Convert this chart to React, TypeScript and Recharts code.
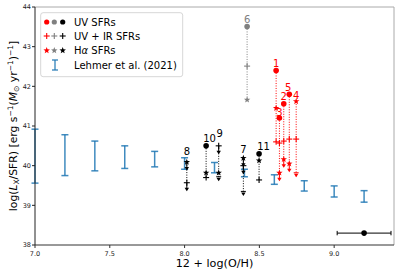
import React from 'react';
import { ComposedChart, Scatter, XAxis, YAxis, ErrorBar, ReferenceLine, Customized } from 'recharts';

// ---------- data ----------
// Lehmer et al. (2021) relation (centre and half-range)
const lehmerOH = [7.0, 7.2, 7.4, 7.6, 7.8, 8.0, 8.2, 8.4, 8.6, 8.8, 9.0, 9.2];
const lehmerLx = [40.24, 40.265, 40.245, 40.215, 40.165, 40.055, 39.95, 39.815, 39.65, 39.49, 39.35, 39.225];
const lehmerErr = [0.68, 0.515, 0.375, 0.285, 0.195, 0.145, 0.13, 0.095, 0.12, 0.13, 0.14, 0.145];

// typical metallicity uncertainty point
const refOH = [9.2];
const refLx = [38.3];
const refOHErr = [0.18];

// galaxies
const galaxyIds = ['1', '2', '3', '4', '5', '6', '7', '8', '9', '10', '11'];
const galaxyOH = [8.612, 8.663, 8.634, 8.746, 8.7, 8.418, 8.393, 8.015, 8.228, 8.144, 8.498];
const galaxyGroup = ['red', 'red', 'red', 'red', 'red', 'gray', 'black', 'black', 'black', 'black', 'black'];
const uvSFR = [42.4, 41.56, 41.2, null, 41.8, 43.51, null, null, null, 40.5, 40.3];
const uvirSFR = [40.6, 40.62, 40.57, 40.67, 40.67, 42.51, 40.0, 39.57, 40.5, 39.7, 39.64];
const uvirUpper = [false, false, false, false, false, false, true, true, true, false, false];
const haSFR = [41.45, 40.16, 39.82, 41.62, 40.05, 41.66, 40.19, 40.09, 39.82, 39.82, 40.13];
const haUpper = [false, true, true, false, true, false, true, true, false, false, false];
const uvUpperOnly = [null, null, null, 39.72, null, null, 39.25, null, 39.62, null, null];

// x ticks / y ticks
const xTicks = [7.0, 7.5, 8.0, 8.5, 9.0];
const yTicks = [38, 39, 40, 41, 42, 43, 44];

// ---------- styles ----------
const FONT = 'DejaVu Sans, sans-serif';
const groupColor: Record<string, string> = { red: '#ff0000', gray: '#808080', black: '#000000' };
const labelOffset: Record<string, [number, number]> = {
  '1': [0, -3.5], '2': [0, -3.3], '3': [0, -2], '4': [0, -2.5], '5': [-1, -3],
  '6': [0, -3.4], '7': [0, -5.5], '8': [0, -7], '9': [1, -8.5], '10': [3.5, -4], '11': [4.5, -3.3],
};

const lehmerData = lehmerOH.map((x, i) => ({ x, y: lehmerLx[i], err: lehmerErr[i] }));
const refData = refOH.map((x, i) => ({ x, y: refLx[i], xerr: refOHErr[i] }));

const galaxies = galaxyIds.map((id, i) => {
  const color = groupColor[galaxyGroup[i]];
  const pts: any[] = [];
  if (uvSFR[i] != null) pts.push({ x: galaxyOH[i], y: uvSFR[i], kind: 'uv', lim: false, color });
  if (uvirSFR[i] != null) pts.push({ x: galaxyOH[i], y: uvirSFR[i], kind: 'uvir', lim: uvirUpper[i], color });
  if (haSFR[i] != null) pts.push({ x: galaxyOH[i], y: haSFR[i], kind: 'ha', lim: haUpper[i], color });
  if (uvUpperOnly[i] != null) pts.push({ x: galaxyOH[i], y: uvUpperOnly[i], kind: 'uvlim', lim: false, color });
  pts.sort((a, b) => b.y - a.y);
  pts[0] = { ...pts[0], label: id, ldx: labelOffset[id][0], ldy: labelOffset[id][1] };
  return { id, color, pts };
});

// ---------- shapes ----------
function starPoints(cx: number, cy: number, ro: number, ri: number) {
  const p: string[] = [];
  for (let k = 0; k < 10; k++) {
    const r = k % 2 === 0 ? ro : ri;
    const a = -Math.PI / 2 + (k * Math.PI) / 5;
    p.push(`${cx + r * Math.cos(a)},${cy + r * Math.sin(a)}`);
  }
  return p.join(' ');
}

function Marker(props: any) {
  const { cx, cy, payload } = props;
  if (cx == null || cy == null || !payload) return <g />;
  const c = payload.color;
  return (
    <g>
      {payload.lim && (
        <g>
          <line x1={cx} y1={cy} x2={cx} y2={cy + 7} stroke={c} strokeWidth={1} />
          <polygon points={`${cx - 2.2},${cy + 5} ${cx + 2.2},${cy + 5} ${cx},${cy + 8.5}`} fill={c} />
        </g>
      )}
      {payload.kind === 'uv' && <circle cx={cx} cy={cy} r={2.8} fill={c} />}
      {payload.kind === 'uvir' && (
        <g stroke={c} strokeWidth={1.1}>
          <line x1={cx - 3} y1={cy} x2={cx + 3} y2={cy} />
          <line x1={cx} y1={cy - 3} x2={cx} y2={cy + 3} />
        </g>
      )}
      {payload.kind === 'ha' && <polygon points={starPoints(cx, cy, 3.4, 1.4)} fill={c} />}
      {payload.kind === 'uvlim' && (
        <g>
          <line x1={cx - 2.5} y1={cy - 4} x2={cx + 2.5} y2={cy - 4} stroke={c} strokeWidth={1} />
          <polygon points={`${cx - 2.2},${cy - 3} ${cx + 2.2},${cy - 3} ${cx},${cy + 0.5}`} fill={c} />
        </g>
      )}
      {payload.label && (
        <text x={cx + payload.ldx} y={cy + payload.ldy} textAnchor="middle" fontSize={10}
          fontFamily={FONT} fill={c}>{payload.label}</text>
      )}
    </g>
  );
}

const NoShape = () => <g />;
const RefDot = (props: any) => (props.cx == null ? <g /> : <circle cx={props.cx} cy={props.cy} r={2.8} fill="#000" />);

// ---------- overlay: axis titles + legend ----------
function Overlay() {
  const sub = { fontSize: 7.5 };
  const lx = [46.7, 54.3, 62.7];
  const lc = ['#ff0000', '#808080', '#000000'];
  const rows = [22, 36, 50.5, 65];
  return (
    <g fontFamily={FONT}>
      <text x={214.5} y={267} textAnchor="middle" fontSize={11.2} fill="#000">12 + log(O/H)</text>
      <text x={17} y={126} textAnchor="middle" fontSize={10.8} fill="#000" transform="rotate(-90 17 126)">
        <tspan>log(</tspan>
        <tspan fontStyle="italic">L</tspan>
        <tspan dy={2} {...sub}>X</tspan>
        <tspan dy={-2}>/SFR) [erg s</tspan>
        <tspan dy={-4} {...sub}>−1</tspan>
        <tspan dy={4}>(</tspan>
        <tspan fontStyle="italic">M</tspan>
        <tspan dy={2} {...sub}>⊙</tspan>
        <tspan dy={-2}> yr</tspan>
        <tspan dy={-4} {...sub}>−1</tspan>
        <tspan dy={4}>)</tspan>
        <tspan dy={-4} {...sub}>−1</tspan>
        <tspan dy={4}>]</tspan>
      </text>
      <rect x={40.7} y={12.7} width={142} height={64} rx={2.5} fill="#fff" fillOpacity={0.85} stroke="#cccccc" strokeWidth={0.8} />
      {lx.map((x, i) => (
        <g key={i}>
          <circle cx={x} cy={rows[0]} r={2.6} fill={lc[i]} />
          <g stroke={lc[i]} strokeWidth={1.1}>
            <line x1={x - 3} y1={rows[1]} x2={x + 3} y2={rows[1]} />
            <line x1={x} y1={rows[1] - 3} x2={x} y2={rows[1] + 3} />
          </g>
          <polygon points={starPoints(x, rows[2], 3.4, 1.4)} fill={lc[i]} />
        </g>
      ))}
      <g stroke="#1f77b4" strokeOpacity={0.85} strokeWidth={1.4}>
        <line x1={55} y1={60} x2={55} y2={70} />
        <line x1={52} y1={60} x2={58} y2={60} />
        <line x1={52} y1={70} x2={58} y2={70} />
      </g>
      <text x={74} y={rows[0] + 3.6} fontSize={10} fill="#000">UV SFRs</text>
      <text x={74} y={rows[1] + 3.6} fontSize={10} fill="#000">UV + IR SFRs</text>
      <text x={74} y={rows[2] + 3.6} fontSize={10} fill="#000">H<tspan fontStyle="italic">α</tspan> SFRs</text>
      <text x={74} y={rows[3] + 3.6} fontSize={10} fill="#000">Lehmer et al. (2021)</text>
    </g>
  );
}

export default function App() {
  return (
    <div style={{ position: 'absolute', left: 0, top: 0, width: 399, height: 276, background: '#fff' }}>
      <ComposedChart width={399} height={276} margin={{ top: 7, right: 5, bottom: 0, left: 0 }}>
        <XAxis type="number" dataKey="x" domain={[7, 9.4]} ticks={xTicks} allowDataOverflow
          tickFormatter={(v: number) => v.toFixed(1)} height={31} tickSize={3} tickMargin={3}
          axisLine={{ stroke: '#333' }} tickLine={{ stroke: '#333' }}
          tick={{ fontSize: 6.5, fill: '#222', fontFamily: FONT }} />
        <YAxis type="number" dataKey="y" domain={[38, 44]} ticks={yTicks} allowDataOverflow
          width={35} tickSize={3} tickMargin={1}
          axisLine={{ stroke: '#222' }} tickLine={{ stroke: '#222' }}
          tick={{ fontSize: 6.5, fill: '#222', fontFamily: FONT }} />
        <ReferenceLine y={44} stroke="#aaa" strokeWidth={1} />
        <ReferenceLine x={9.4} stroke="#aaa" strokeWidth={1} />
        <Scatter data={lehmerData} shape={NoShape} isAnimationActive={false}>
          <ErrorBar dataKey="err" direction="y" width={3.5} stroke="#1f77b4" strokeOpacity={0.85} strokeWidth={1.5} isAnimationActive={false} />
        </Scatter>
        <Scatter data={refData} shape={RefDot} isAnimationActive={false}>
          <ErrorBar dataKey="xerr" direction="x" width={2.2} stroke="#000" strokeWidth={1} isAnimationActive={false} />
        </Scatter>
        {galaxies.map((g) => (
          <Scatter key={g.id} data={g.pts} shape={Marker} isAnimationActive={false}
            line={{ stroke: g.color, strokeWidth: 1, strokeDasharray: '1 1.5' }} />
        ))}
        <Customized component={Overlay} />
      </ComposedChart>
    </div>
  );
}
